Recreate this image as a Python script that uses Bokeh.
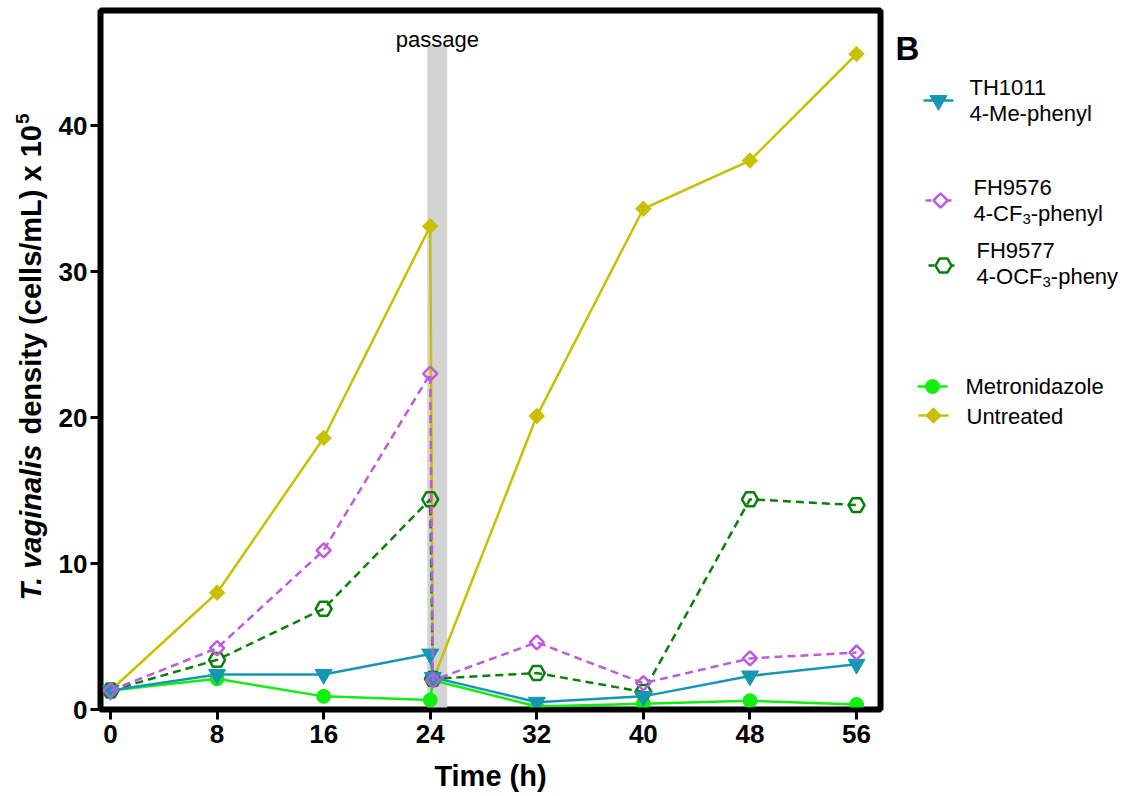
import numpy as np
from bokeh.plotting import figure
from bokeh.layouts import row
from bokeh.models import Range1d, Label, FixedTicker, ColumnDataSource
from bokeh.embed import file_html
from bokeh.resources import INLINE

FONT = "Liberation Sans"

# Sampling times (h); 24.2 is the first count after the passage
hours = [0, 8, 16, 24, 24.2, 32, 40, 48, 56]

# Cell densities (cells/mL x 10^5)
untreated = [1.3, 8.0, 18.6, 33.1, 2.0, 20.1, 34.3, 37.6, 44.9]
metronidazole = [1.3, 2.1, 0.9, 0.65, 2.0, 0.2, 0.4, 0.6, 0.35]
fh9577 = [1.3, 3.4, 6.9, 14.4, 2.1, 2.5, 1.2, 14.4, 14.0]
th1011 = [1.3, 2.4, 2.4, 3.8, 2.2, 0.5, 0.9, 2.3, 3.1]
fh9576 = [1.3, 4.2, 10.9, 23.0, 2.0, 4.6, 1.8, 3.5, 3.9]

x_ticks = [0, 8, 16, 24, 32, 40, 48, 56]
y_ticks = [0, 10, 20, 30, 40]

passage_start, passage_end, passage_top = 23.78, 25.28, 45.5

# name, values, colour, marker, angle, size, filled, dash
series = [
    ("Untreated", untreated, "#C8C000", "square", np.pi / 4, 11, True, "solid"),
    ("Metronidazole", metronidazole, "#11EE11", "circle", 0, 14, True, "solid"),
    ("FH9577", fh9577, "#0A800A", "hex", 0, 16, False, "8 5"),
    ("TH1011", th1011, "#1597B3", "inverted_triangle", 0, 17, True, "solid"),
    ("FH9576", fh9576, "#BD5CDB", "square", np.pi / 4, 10, False, "8 5"),
]
style = {s[0]: s for s in series}

H = 796
TOP, BOTTOM = 10, 87          # borders shared by all panels
FRAME_TOP, FRAME_BOTTOM = TOP, H - BOTTOM


def blank_panel(width):
    """A figure without axes whose data coordinates equal page pixels."""
    f = figure(width=width, height=H,
               x_range=Range1d(0, width), y_range=Range1d(FRAME_BOTTOM, FRAME_TOP),
               output_backend="svg", toolbar_location=None,
               min_border_left=0, min_border_right=0,
               min_border_top=TOP, min_border_bottom=BOTTOM,
               x_axis_location=None, y_axis_location=None)
    f.outline_line_color = None
    f.grid.visible = False
    f.background_fill_color = "white"
    f.border_fill_color = "white"
    return f


# ---------------- y-axis title panel ----------------
YL_W = 50
ylab = blank_panel(YL_W)
F = 29
w_species = 5.447 * F
w_space = 0.278 * F
w_rest = 10.671 * F
start_y = 600
lab_x = 30
ylab.add_layout(Label(x=lab_x, y=start_y, text="T. vaginalis", angle=np.pi / 2,
                      text_align="left", text_baseline="middle", text_font=FONT,
                      text_font_style="bold italic", text_font_size=f"{F}px",
                      text_color="black"))
y1 = start_y - w_species - w_space
ylab.add_layout(Label(x=lab_x, y=y1, text="density (cells/mL) x 10", angle=np.pi / 2,
                      text_align="left", text_baseline="middle", text_font=FONT,
                      text_font_style="bold", text_font_size=f"{F}px",
                      text_color="black"))
ylab.add_layout(Label(x=lab_x - 8, y=y1 - w_rest - 1, text="5", angle=np.pi / 2,
                      text_align="left", text_baseline="middle", text_font=FONT,
                      text_font_style="bold", text_font_size="19px",
                      text_color="black"))

# ---------------- main plot ----------------
p = figure(width=840, height=H,
           x_range=Range1d(-0.75, 57.8), y_range=Range1d(0, 47.88),
           output_backend="svg", toolbar_location=None,
           min_border_left=50, min_border_right=10,
           min_border_top=TOP, min_border_bottom=BOTTOM)
p.background_fill_color = "white"
p.border_fill_color = "white"
p.grid.visible = False
p.outline_line_color = "black"
p.outline_line_width = 6

for ax in (p.xaxis, p.yaxis):
    ax.axis_line_width = 4
    ax.major_tick_line_width = 3
    ax.major_tick_out = 10
    ax.major_tick_in = 0
    ax.minor_tick_out = 0
    ax.minor_tick_in = 0
    ax.major_label_text_font = FONT
    ax.major_label_text_font_style = "bold"
    ax.major_label_text_font_size = "26px"
    ax.major_label_text_color = "black"

p.xaxis.ticker = FixedTicker(ticks=x_ticks)
p.yaxis.ticker = FixedTicker(ticks=y_ticks)
p.xaxis.major_label_standoff = 5
p.yaxis.major_label_standoff = 3
p.xaxis.axis_label = "Time (h)"
p.xaxis.axis_label_text_font = FONT
p.xaxis.axis_label_text_font_style = "bold"
p.xaxis.axis_label_text_font_size = "29px"
p.xaxis.axis_label_text_color = "black"
p.xaxis.axis_label_standoff = 14

# passage band
p.quad(left=[passage_start], right=[passage_end], bottom=[0], top=[passage_top],
       fill_color="#D3D3D3", line_color=None)
p.add_layout(Label(x=(passage_start + passage_end) / 2, y=passage_top + 0.42, text="passage",
                   text_align="center", text_baseline="alphabetic",
                   text_font=FONT, text_font_size="22px", text_color="black"))

for name, vals, color, marker, angle, size, filled, dash in series:
    src = ColumnDataSource(dict(x=hours, y=vals))
    p.line("x", "y", source=src, line_color=color, line_width=2.5, line_dash=dash)
    p.scatter("x", "y", source=src, marker=marker, angle=angle, size=size,
              line_color=color, line_width=2.5 if not filled else 1,
              fill_color=color if filled else None)

# ---------------- legend panel ----------------
LEG_W = 249
leg = blank_panel(LEG_W)

leg.add_layout(Label(x=5, y=48, text="B", text_font=FONT, text_font_style="bold",
                     text_font_size="33px", text_baseline="alphabetic",
                     text_color="black"))

# (name, line x0, line x1, marker x, marker y, text x, [(baseline, pieces)])
legend_rows = [
    ("TH1011", 33, 63, 48, 100, 79, [(87, [("TH1011", 22, 0)]), (113, [("4-Me-phenyl", 22, 0)])]),
    ("FH9576", 35, 65, 50, 200, 83, [(187, [("FH9576", 22, 0)]),
                                      (213, [("4-CF", 22, 0), ("3", 15, 5), ("-phenyl", 22, 0)])]),
    ("FH9577", 38, 67, 53, 265, 86, [(250, [("FH9577", 22, 0)]),
                                      (276, [("4-OCF", 22, 0), ("3", 15, 5), ("-pheny", 22, 0)])]),
    ("Metronidazole", 27, 57, 42, 386, 75, [(386, [("Metronidazole", 22, 0)])]),
    ("Untreated", 28, 58, 43, 415, 76, [(416, [("Untreated", 22, 0)])]),
]

# Arial/Liberation advance widths (em) for the glyphs used in split labels
adv = {"4": .556, "-": .333, "C": .722, "F": .611, "O": .778, "3": .556}

for name, lx0, lx1, mx, my, tx, lines in legend_rows:
    _, _, color, marker, angle, size, filled, dash = style[name]
    leg.line([lx0, lx1], [my, my], line_color=color, line_width=2.5,
             line_dash="6 4" if dash != "solid" else "solid")
    leg.scatter([mx], [my], marker=marker, angle=angle, size=size, line_color=color,
                line_width=2.5 if not filled else 1, fill_color=color if filled else "white")
    for base, pieces in lines:
        cx = tx
        for txt, fs, dy in pieces:
            leg.add_layout(Label(x=cx, y=base + dy, text=txt, text_font=FONT,
                                 text_font_size=f"{fs}px", text_baseline="alphabetic",
                                 text_color="black"))
            cx += sum(adv.get(c, 0.55) for c in txt) * fs

layout = row(ylab, p, leg)
open("out.html", "w").write(file_html(layout, INLINE))
